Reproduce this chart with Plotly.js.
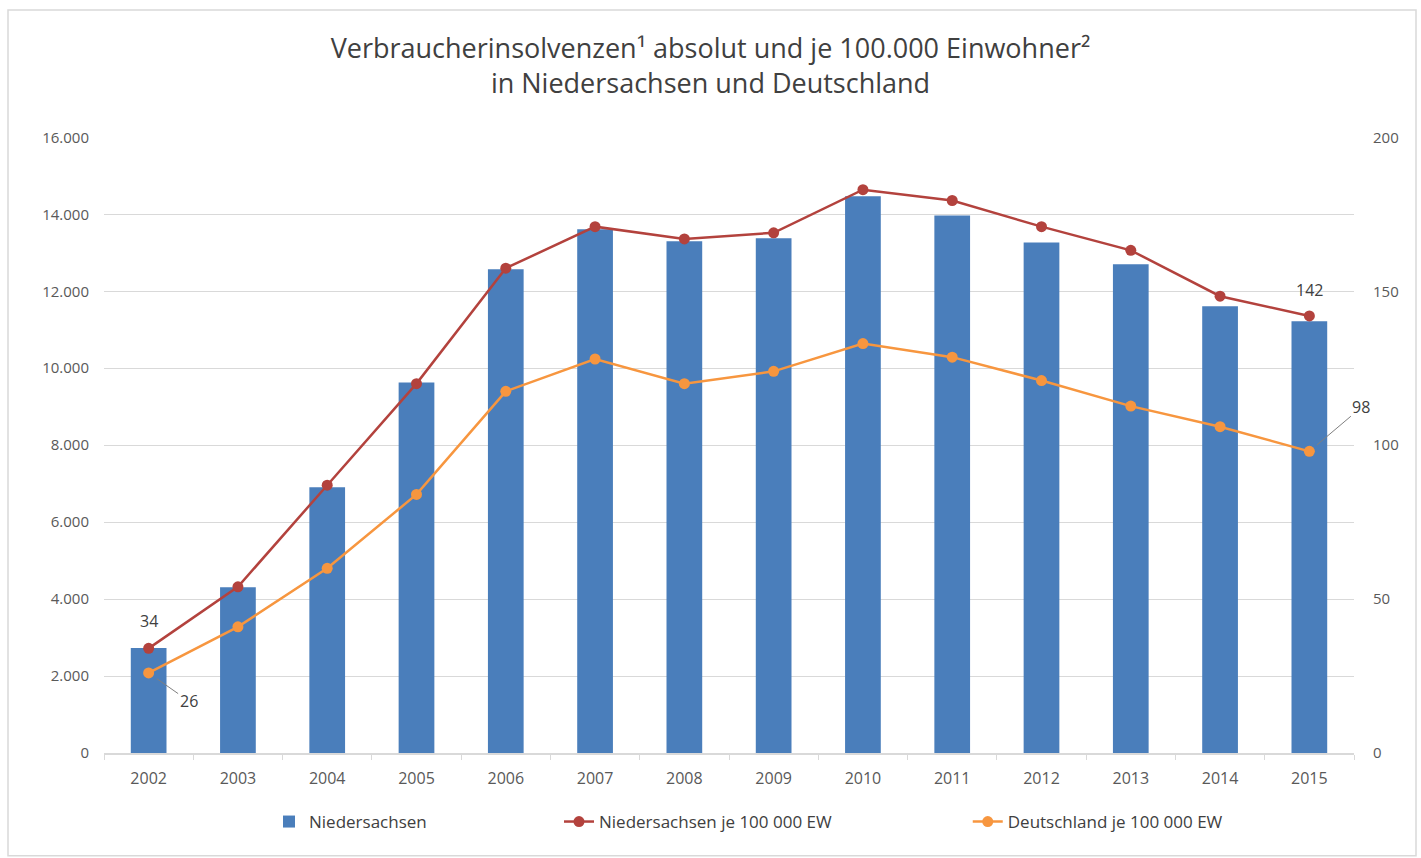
<!DOCTYPE html>
<html>
<head>
<meta charset="utf-8">
<script src="https://cdn.plot.ly/plotly-3.0.1.min.js"></script>
<style>html,body{margin:0;padding:0;background:#fff}#chart{width:1421px;height:858px}</style>
</head>
<body>
<div id="chart"></div>
<script>
const years = ['2002','2003','2004','2005','2006','2007','2008','2009','2010','2011','2012','2013','2014','2015'];
const niedersachsenAbs = [2730, 4310, 6910, 9630, 12570, 13610, 13300, 13380, 14470, 13970, 13270, 12700, 11610, 11220];
const niedersachsenJe100k = [34, 54, 87, 120, 157.5, 171, 167, 169, 183, 179.5, 171, 163.3, 148.4, 142];
const deutschlandJe100k = [26, 41, 60, 84, 117.5, 128, 120, 124, 133, 128.6, 121, 112.7, 106, 98];
const leftTicks = [0, 2000, 4000, 6000, 8000, 10000, 12000, 14000, 16000];
const rightTicks = [0, 50, 100, 150, 200];

const fam = 'Open Sans, Liberation Sans, sans-serif';
const tickFont = {family: fam, size: 15, color: '#595959'};
const xTickFont = {family: fam, size: 16, color: '#595959'};
const legFont = {family: fam, size: 17, color: '#404040'};

const traces = [
  {type: 'bar', name: 'Niedersachsen', x: years, y: niedersachsenAbs,
   marker: {color: '#4a7ebb'}, yaxis: 'y', legend: 'legend'},
  {type: 'scatter', mode: 'lines+markers', name: 'Niedersachsen je 100 000 EW', x: years, y: niedersachsenJe100k,
   yaxis: 'y2', line: {color: '#b3423d', width: 2.5}, marker: {color: '#b3423d', size: 11}, legend: 'legend2'},
  {type: 'scatter', mode: 'lines+markers', name: 'Deutschland je 100 000 EW', x: years, y: deutschlandJe100k,
   yaxis: 'y2', line: {color: '#f7963f', width: 2.5}, marker: {color: '#f7963f', size: 11}, legend: 'legend3'}
];

const i2002 = years.indexOf('2002');
const i2015 = years.indexOf('2015');
const annFont = {family: fam, size: 16, color: '#404040'};
const legBase = {orientation: 'h', y: -0.112, yanchor: 'middle', xanchor: 'left', font: legFont, bgcolor: 'rgba(0,0,0,0)'};
const layout = {
  width: 1421, height: 858,
  separators: ',.',
  paper_bgcolor: '#fff', plot_bgcolor: '#fff',
  margin: {l: 104, r: 67, t: 137, b: 105},
  title: {text: 'Verbraucherinsolvenzen¹ absolut und je 100.000 Einwohner²<br>in Niedersachsen und Deutschland',
          x: 0.5, xanchor: 'center', y: 0.932, yanchor: 'top',
          font: {family: fam, size: 27, color: '#404040'}},
  bargap: 0.6,
  showlegend: true,
  legend: Object.assign({}, legBase, {x: 0.132}),
  legend2: Object.assign({}, legBase, {x: 0.364}),
  legend3: Object.assign({}, legBase, {x: 0.691}),
  xaxis: {type: 'category', range: [-0.5, years.length - 0.5], tickfont: xTickFont, showgrid: false, showline: true,
          linecolor: '#d9d9d9', linewidth: 1.5,
          ticks: 'outside', tickson: 'boundaries', ticklen: 5, tickcolor: '#d9d9d9', ticklabelstandoff: 10},
  yaxis: {range: [0, 16010], tickvals: leftTicks, tickformat: ',d', tickfont: tickFont,
          showgrid: true, gridcolor: '#d9d9d9', gridwidth: 1.3, zeroline: false, ticklabelstandoff: 14},
  yaxis2: {range: [0, 200.125], tickvals: rightTicks, overlaying: 'y', side: 'right', tickfont: tickFont,
           showgrid: false, zeroline: false, ticklabelstandoff: 18},
  annotations: [
    {x: i2002, y: niedersachsenJe100k[i2002], yref: 'y2', text: '34', showarrow: false, yshift: 27, font: annFont},
    {x: i2002, y: deutschlandJe100k[i2002], yref: 'y2', text: '26', showarrow: true, arrowhead: 0, arrowcolor: '#7f7f7f', arrowwidth: 1,
     ax: 40, ay: 28, standoff: 10, font: annFont},
    {x: i2015, y: niedersachsenJe100k[i2015], yref: 'y2', text: '142', showarrow: false, yshift: 26, font: annFont},
    {x: i2015, y: deutschlandJe100k[i2015], yref: 'y2', text: '98', showarrow: true, arrowhead: 0, arrowcolor: '#7f7f7f', arrowwidth: 1,
     ax: 52, ay: -44, standoff: 10, font: annFont}
  ],
  shapes: [
    {type: 'rect', xref: 'paper', yref: 'paper', x0: -0.0768, x1: 1.0496, y0: -0.167, y1: 1.206,
     line: {color: '#d9d9d9', width: 1.5}}
  ]
};

Plotly.newPlot('chart', traces, layout, {displayModeBar: false});
</script>
</body>
</html>
